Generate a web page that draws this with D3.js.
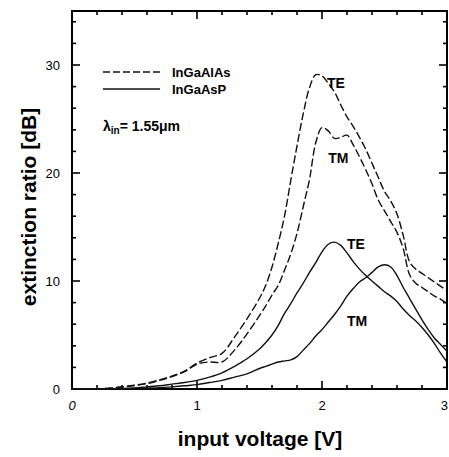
<!DOCTYPE html>
<html>
<head>
<meta charset="utf-8">
<script src="https://cdn.jsdelivr.net/npm/d3@7"></script>
<style>
  body { margin: 0; background: #fff; }
  svg { font-family: "Liberation Sans", Arial, sans-serif; }
</style>
</head>
<body>
<div id="chart"></div>
<script>
// voltage grid shared by all four curves
var voltage = [0, 0.1, 0.2, 0.3, 0.4, 0.5, 0.6, 0.7, 0.8, 0.9, 1.0, 1.1, 1.2, 1.3, 1.4, 1.5,
  1.55, 1.6, 1.65, 1.7, 1.75, 1.8, 1.85, 1.9, 1.95, 2.0, 2.05, 2.1, 2.15, 2.2, 2.25, 2.3,
  2.35, 2.4, 2.45, 2.5, 2.55, 2.6, 2.65, 2.7, 2.75, 2.8, 2.85, 2.9, 2.95, 3.0];

// InGaAlAs (dashed)
var alAsTE = [0, 0, 0.02, 0.08, 0.2, 0.35, 0.55, 0.85, 1.2, 1.65, 2.4, 2.9, 3.3, 4.8, 6.5, 8.4,
  9.6, 11.3, 13.5, 16.0, 19.3, 22.5, 25.5, 27.9, 29.1, 29.0, 28.3, 27.5, 26.3, 25.2, 24.3, 23.3,
  22.2, 20.9, 19.6, 18.3, 17.4, 16.2, 14.2, 11.8, 11.1, 10.7, 10.3, 9.9, 9.5, 9.1];
var alAsTM = [0, 0, 0.02, 0.07, 0.18, 0.32, 0.5, 0.8, 1.15, 1.6, 2.3, 2.5, 2.5, 3.6, 5.1, 6.8,
  7.7, 8.7, 9.6, 11.0, 12.5, 14.4, 16.9, 19.4, 22.8, 24.2, 23.9, 23.2, 23.3, 23.5, 22.6, 21.5,
  20.3, 19.0, 17.5, 16.5, 15.5, 14.5, 13.0, 10.6, 9.8, 9.4, 9.0, 8.6, 8.3, 7.9];

// InGaAsP (solid)
var asPTE = [0, 0, 0, 0.02, 0.05, 0.1, 0.2, 0.3, 0.45, 0.6, 0.8, 1.1, 1.5, 2.1, 2.8, 3.7,
  4.3, 5.0, 5.9, 7.0, 7.9, 8.9, 9.8, 10.8, 11.7, 12.7, 13.4, 13.6, 13.3, 12.6, 11.8, 11.1,
  10.5, 10.0, 9.5, 9.0, 8.6, 8.1, 7.4, 6.8, 6.3, 5.7, 5.0, 4.2, 3.3, 2.5];
var asPTM = [0, 0, 0, 0, 0.02, 0.05, 0.08, 0.12, 0.2, 0.3, 0.4, 0.6, 0.8, 1.1, 1.4, 1.9,
  2.1, 2.3, 2.5, 2.6, 2.7, 3.0, 3.6, 4.2, 4.9, 5.5, 6.2, 6.9, 7.7, 8.6, 9.3, 9.9,
  10.3, 10.8, 11.3, 11.5, 11.3, 10.5, 9.4, 8.4, 7.4, 6.4, 5.5, 4.7, 4.1, 3.5];

var xTicks = [0, 1, 2, 3];
var yTicks = [0, 10, 20, 30];
var legendNames = ["InGaAlAs", "InGaAsP"];

var svgWidth = 449;
var svgHeight = 457;

var svg = d3.select("#chart")
  .append("svg")
  .attr("width", svgWidth)
  .attr("height", svgHeight);

var x = d3.scaleLinear().domain([0, 3]).range([72, 447]);
var y = d3.scaleLinear().domain([0, 35]).range([389, 11]);

// frame
svg.append("rect")
  .attr("x", x(0)).attr("y", y(35))
  .attr("width", x(3) - x(0)).attr("height", y(0) - y(35))
  .attr("fill", "none").attr("stroke", "#000").attr("stroke-width", 2);

// inward ticks on all four sides
var xMinor = d3.range(0, 3.01, 0.2);
var yMinor = d3.range(0, 35.01, 2);

svg.selectAll(".xtb").data(xMinor).enter().append("line")
  .attr("x1", d => x(d)).attr("x2", d => x(d))
  .attr("y1", y(0)).attr("y2", d => y(0) - (Math.abs(d - Math.round(d)) < 1e-6 ? 8 : 4))
  .attr("stroke", "#000").attr("stroke-width", 1.6);
svg.selectAll(".xtt").data(xMinor).enter().append("line")
  .attr("x1", d => x(d)).attr("x2", d => x(d))
  .attr("y1", y(35)).attr("y2", d => y(35) + (Math.abs(d - Math.round(d)) < 1e-6 ? 8 : 4))
  .attr("stroke", "#000").attr("stroke-width", 1.6);
svg.selectAll(".ytl").data(yMinor).enter().append("line")
  .attr("y1", d => y(d)).attr("y2", d => y(d))
  .attr("x1", x(0)).attr("x2", d => x(0) + (d % 10 === 0 ? 8 : 4))
  .attr("stroke", "#000").attr("stroke-width", 1.6);
svg.selectAll(".ytr").data(yMinor).enter().append("line")
  .attr("y1", d => y(d)).attr("y2", d => y(d))
  .attr("x1", x(3)).attr("x2", d => x(3) - (d % 10 === 0 ? 8 : 4))
  .attr("stroke", "#000").attr("stroke-width", 1.6);

// tick labels (the last one kept inside the window)
svg.selectAll(".xl").data(xTicks).enter().append("text")
  .attr("x", (d, i) => i === xTicks.length - 1 ? svgWidth - 1 : x(d)).attr("y", 410)
  .attr("text-anchor", (d, i) => i === xTicks.length - 1 ? "end" : "middle")
  .attr("font-size", 13)
  .attr("font-style", (d, i) => i === 0 ? "italic" : "normal")
  .text(d => d);
svg.selectAll(".yl").data(yTicks).enter().append("text")
  .attr("x", 60).attr("y", d => y(d) + 5)
  .attr("text-anchor", "end")
  .attr("font-size", 13)
  .text(d => d);

// axis titles
svg.append("text")
  .attr("x", 260).attr("y", 446)
  .attr("text-anchor", "middle")
  .attr("font-size", 21).attr("font-weight", "bold")
  .text("input voltage [V]");
svg.append("text")
  .attr("transform", "translate(36, 207) rotate(-90)")
  .attr("text-anchor", "middle")
  .attr("font-size", 21).attr("font-weight", "bold")
  .text("extinction ratio [dB]");

// curves
var line = d3.line()
  .x((d, i) => x(voltage[i]))
  .y(d => y(d))
  .curve(d3.curveCatmullRom.alpha(0.5));

var series = [
  { values: alAsTE, dash: "8,3" },
  { values: alAsTM, dash: "8,3" },
  { values: asPTE, dash: null },
  { values: asPTM, dash: null }
];

svg.selectAll(".curve").data(series).enter().append("path")
  .attr("d", d => line(d.values))
  .attr("fill", "none")
  .attr("stroke", "#111")
  .attr("stroke-width", 1.4)
  .attr("stroke-dasharray", d => d.dash);

// legend
var legend = svg.append("g");
legend.selectAll("line").data(legendNames).enter().append("line")
  .attr("x1", 103).attr("x2", 160)
  .attr("y1", (d, i) => 72 + i * 17).attr("y2", (d, i) => 72 + i * 17)
  .attr("stroke", "#111").attr("stroke-width", 1.4)
  .attr("stroke-dasharray", (d, i) => i === 0 ? "7,3" : null);
legend.selectAll("text").data(legendNames).enter().append("text")
  .attr("x", 172).attr("y", (d, i) => 77 + i * 17)
  .attr("font-size", 13).attr("font-weight", "bold")
  .text(d => d);

var lam = svg.append("text")
  .attr("x", 103).attr("y", 131)
  .attr("font-size", 14).attr("font-weight", "bold");
lam.append("tspan").text("λ");
lam.append("tspan").attr("font-size", 10).attr("dy", 3).text("in");
lam.append("tspan").attr("dy", -3).text("= 1.55μm");

// curve labels
var tags = [
  { t: "TE", v: 2.04, d: 27.9 },
  { t: "TM", v: 2.05, d: 20.9 },
  { t: "TE", v: 2.2, d: 13.0 },
  { t: "TM", v: 2.2, d: 5.8 }
];
svg.selectAll(".tag").data(tags).enter().append("text")
  .attr("x", d => x(d.v)).attr("y", d => y(d.d))
  .attr("font-size", 14).attr("font-weight", "bold")
  .text(d => d.t);
</script>
</body>
</html>
